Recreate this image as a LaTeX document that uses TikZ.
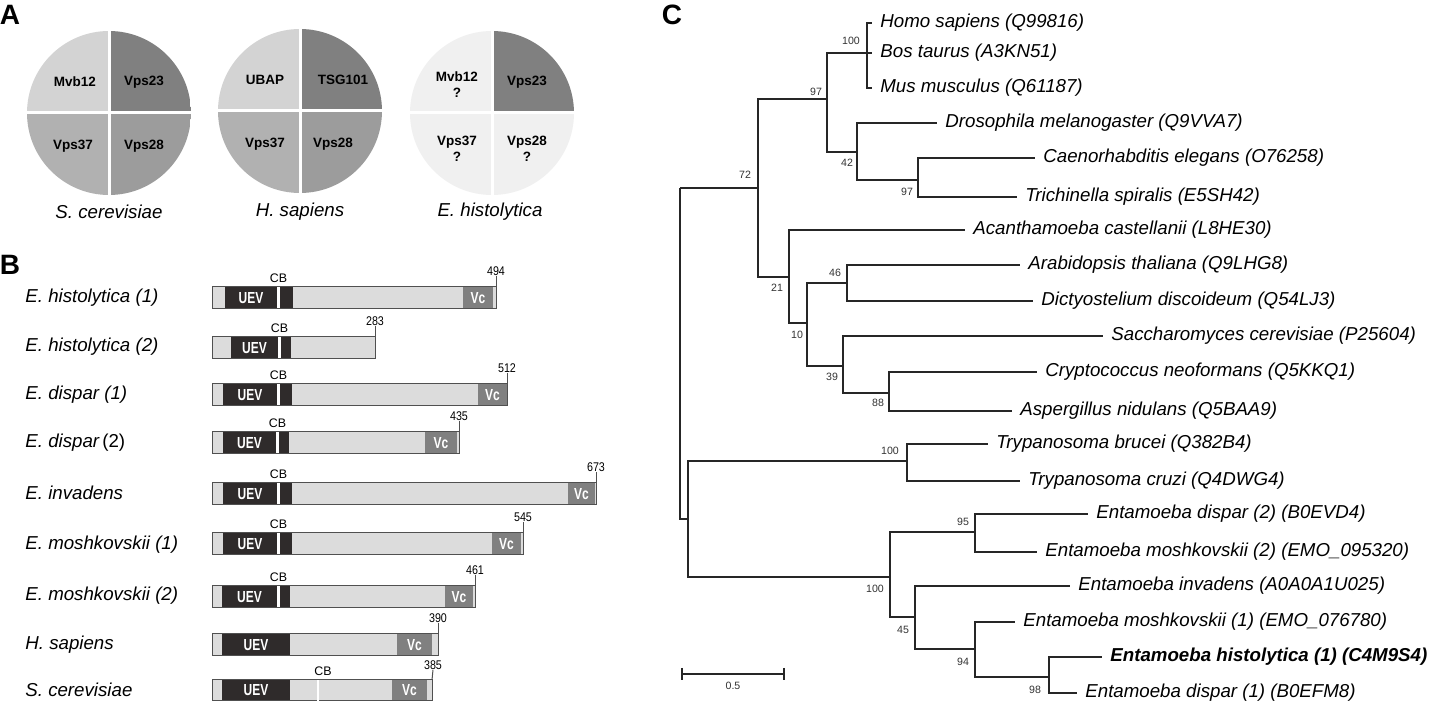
\documentclass[tikz,border=0pt]{standalone}
\usepackage{fontspec}
\setmainfont{Liberation Sans}
\usetikzlibrary{positioning}

\definecolor{qlight}{HTML}{D3D3D3}
\definecolor{qdark}{HTML}{808080}
\definecolor{qmid}{HTML}{B1B1B1}
\definecolor{qmed}{HTML}{9C9C9C}
\definecolor{qpale}{HTML}{F0F0F0}
\definecolor{barlight}{HTML}{DCDCDC}
\definecolor{bardark}{HTML}{2F2B2B}
\definecolor{barvc}{HTML}{808080}
\definecolor{barline}{HTML}{505050}

\tikzset{
  sp/.style={font=\fontsize{9.35}{11}\selectfont\itshape, inner sep=0pt},
  leaf/.style={sp, anchor=west, inner xsep=4pt},
  boot/.style={font=\fontsize{5.3}{6}\selectfont, inner sep=0pt, text=black!80},
  branch/.style={line width=1pt, black!85},
  quad/.style={font=\fontsize{6.75}{8}\selectfont\bfseries, align=center, inner sep=0pt},
  panel/.style={font=\fontsize{14}{16}\selectfont\bfseries, inner sep=0pt},
  dom/.style={font=\fontsize{8}{9}\selectfont\bfseries, text=white, xscale=0.75, inner sep=0pt},
  aa/.style={font=\fontsize{6.3}{7}\selectfont, xscale=0.85, inner sep=0pt},
  cb/.style={font=\fontsize{6.2}{7}\selectfont, inner sep=0pt},
  edge/.style={barline, line width=0.5pt},
}

\begin{document}
\begin{tikzpicture}[x=0.5pt, y=-0.5pt]
  \useasboundingbox[fill=white] (0,0) rectangle (1432,710);

  % ---- A: ESCRT-I subunits
  \node[panel] (labA) at (10,15) {A};
  \foreach \cx/\cy/\qa/\qb/\qc/\qd in {109/113/qlight/qdark/qmid/qmed, 300/111/qlight/qdark/qmid/qmed, 492/113/qpale/qdark/qpale/qpale}{
    \begin{scope}
      \clip (\cx,\cy) circle (82);
      \fill[\qa] (\cx-82,\cy-82) rectangle (\cx,\cy);
      \fill[\qb] (\cx,\cy-82) rectangle (\cx+82,\cy);
      \fill[\qc] (\cx-82,\cy) rectangle (\cx,\cy+82);
      \fill[\qd] (\cx,\cy) rectangle (\cx+82,\cy+82);
    \end{scope}
    \draw[white, line width=1.5pt] (\cx-83,\cy) -- (\cx+83,\cy);
    \draw[white, line width=1.5pt] (\cx,\cy-83) -- (\cx,\cy+83);
  }
  \node[quad] (sc1) at (75,82) {Mvb12};
  \node[quad] (sc2) at (144,82) {Vps23};
  \node[quad] (sc3) at (73,146) {Vps37};
  \node[quad] (sc4) at (144,146) {Vps28};
  \node[quad] (hs1) at (265,80) {UBAP};
  \node[quad] (hs2) at (343,80) {TSG101};
  \node[quad] (hs3) at (265,144) {Vps37};
  \node[quad] (hs4) at (333,144) {Vps28};
  \node[quad] (eh1) at (457,85) {Mvb12\\?};
  \node[quad] (eh2) at (527,82) {Vps23};
  \node[quad] (eh3) at (457,149) {Vps37\\?};
  \node[quad] (eh4) at (527,149) {Vps28\\?};
  \node[sp] (scA) at (109,212) {S. cerevisiae};
  \node[sp] (hsA) at (300,212) {H. sapiens};
  \node[sp] (ehA) at (490,212) {E. histolytica};

  % ---- B: Vps23 domain maps
  \node[panel] (labB) at (10,265) {B};
  \node[sp, anchor=west] (r1) at (25,298) {E. histolytica (1)};
  \node[sp, anchor=west] (r2) at (25,347) {E. histolytica (2)};
  \node[sp, anchor=west] (r3) at (25,395) {E. dispar (1)};
  \node[sp, anchor=west] (r4) at (25,443) {E. dispar\,{\upshape(2)}};
  \node[sp, anchor=west] (r5) at (25,493) {E. invadens};
  \node[sp, anchor=west] (r6) at (25,545) {E. moshkovskii (1)};
  \node[sp, anchor=west] (r7) at (25,596) {E. moshkovskii (2)};
  \node[sp, anchor=west] (r8) at (25,645) {H. sapiens};
  \node[sp, anchor=west] (r9) at (25,690) {S. cerevisiae};

  \foreach \i/\yt/\xe/\ua/\ub/\da/\db/\va/\vb/\len in {
      1/287/496/225/277/280/293/463/493/494,
      2/337/375/231/278/281/291/375/375/283,
      3/384/507/223/277/280/292/478/507/512,
      4/432/459/223/276/279/289/425/457/435,
      5/483/596/223/277/280/292/568/595/673,
      6/533/523/223/277/280/292/492/521/545,
      7/586/475/222/277/280/290/445/473/461}{
    \fill[barlight] (212,\yt) rectangle (\xe,\yt+22);
    \fill[bardark] (\ua,\yt) rectangle (\ub,\yt+22);
    \fill[white] (\ub,\yt) rectangle (\da,\yt+22);
    \fill[bardark] (\da,\yt) rectangle (\db,\yt+22);
    \fill[barvc] (\va,\yt) rectangle (\vb,\yt+22);
    \draw[edge] (212,\yt) rectangle (\xe,\yt+22);
    \node[dom] (uev\i) at ({(\ua+\ub)/2},\yt+11) {UEV};
    \node[cb] (cb\i) at ({(\ub+\da)/2},\yt-9) {CB};
    \node[aa] (len\i) at (\xe,\yt-16) {\len};
    \draw[edge] (len\i.south) -- (\xe,\yt);
  }
  \foreach \i/\yt/\va/\vb in {1/287/463/493, 3/384/478/507, 4/432/425/457, 5/483/568/595, 6/533/492/521, 7/586/445/473}
    \node[dom] (vc\i) at ({(\va+\vb)/2},\yt+11) {Vc};

  % H. sapiens
  \fill[barlight] (212,634) rectangle (438,656);
  \fill[bardark] (222,634) rectangle (290,656);
  \fill[barvc] (397,634) rectangle (432,656);
  \draw[edge] (212,634) rectangle (438,656);
  \node[dom] (uev8) at (256,645) {UEV};
  \node[dom] (vc8) at (414.5,645) {Vc};
  \node[aa] (len8) at (438,618) {390};
  \draw[edge] (len8.south) -- (438,634);
  % S. cerevisiae
  \fill[barlight] (212,680) rectangle (432,701);
  \fill[bardark] (222,680) rectangle (290,701);
  \fill[barvc] (392,680) rectangle (427,701);
  \draw[edge] (212,680) rectangle (432,701);
  \draw[white, line width=1.2pt] (318,680.5) -- (318,705);
  \node[dom] (uev9) at (256,690.5) {UEV};
  \node[dom] (vc9) at (409.5,690.5) {Vc};
  \node[cb] (cb9) at (323,671) {CB};
  \node[aa] (len9) at (433,665) {385};
  \draw[edge] (len9.south) -- (432,680);

  % ---- C: tree
  \node[panel] (labC) at (672,15) {C};
  \coordinate (root) at (680,188);
  \coordinate (n72) at (758,188);
  \coordinate (n97a) at (827,99);
  \coordinate (n100a) at (867,53);
  \coordinate (n42) at (857,152);
  \coordinate (n97b) at (918,180);
  \coordinate (n21) at (789,277);
  \coordinate (n10) at (807,323);
  \coordinate (n46) at (847,283);
  \coordinate (n39) at (843,366);
  \coordinate (n88) at (889,393);
  \coordinate (nX) at (688,519);
  \coordinate (n100b) at (907,461);
  \coordinate (n100c) at (890,577);
  \coordinate (n95) at (975,532);
  \coordinate (n45) at (915,617);
  \coordinate (n94) at (975,649);
  \coordinate (n98) at (1049,677);

  \node[leaf] (homo) at (872,23) {Homo sapiens (Q99816)};
  \node[leaf] (bos) at (872,53) {Bos taurus (A3KN51)};
  \node[leaf] (mus) at (872,88) {Mus musculus (Q61187)};
  \node[leaf] (dros) at (937,123) {Drosophila melanogaster (Q9VVA7)};
  \node[leaf] (caeno) at (1035,158) {Caenorhabditis elegans (O76258)};
  \node[leaf] (trich) at (1017,197) {Trichinella spiralis (E5SH42)};
  \node[leaf] (acanth) at (965,230) {Acanthamoeba castellanii (L8HE30)};
  \node[leaf] (arab) at (1020,265) {Arabidopsis thaliana (Q9LHG8)};
  \node[leaf] (dicty) at (1033,301) {Dictyostelium discoideum (Q54LJ3)};
  \node[leaf] (sacch) at (1103,336) {Saccharomyces cerevisiae (P25604)};
  \node[leaf] (crypto) at (1037,372) {Cryptococcus neoformans (Q5KKQ1)};
  \node[leaf] (asperg) at (1012,411) {Aspergillus nidulans (Q5BAA9)};
  \node[leaf] (trypb) at (988,444) {Trypanosoma brucei (Q382B4)};
  \node[leaf] (trypc) at (1020,481) {Trypanosoma cruzi (Q4DWG4)};
  \node[leaf] (disp2) at (1088,514) {Entamoeba dispar (2) (B0EVD4)};
  \node[leaf] (mosh2) at (1037,552) {Entamoeba moshkovskii (2) (EMO\_095320)};
  \node[leaf] (inv) at (1070,586) {Entamoeba invadens (A0A0A1U025)};
  \node[leaf] (mosh1) at (1015,622) {Entamoeba moshkovskii (1) (EMO\_076780)};
  \node[leaf, font=\fontsize{9.35}{11}\selectfont\bfseries\itshape] (hist) at (1102,657) {Entamoeba histolytica (1) (C4M9S4)};
  \node[leaf] (disp1) at (1077,693) {Entamoeba dispar (1) (B0EFM8)};

  \foreach \p/\c in {root/n72, root/nX, n72/n97a, n72/n21, n97a/n100a, n97a/n42,
      n100a/homo, n100a/bos, n100a/mus, n42/dros, n42/n97b, n97b/caeno, n97b/trich,
      n21/acanth, n21/n10, n10/n46, n10/n39, n46/arab, n46/dicty, n39/sacch, n39/n88,
      n88/crypto, n88/asperg, nX/n100b, nX/n100c, n100b/trypb, n100b/trypc,
      n100c/n95, n100c/n45, n95/disp2, n95/mosh2, n45/inv, n45/n94,
      n94/mosh1, n94/n98, n98/hist, n98/disp1}
    \draw[branch] (\p) |- (\c);

  % bootstrap values
  \node[boot] (b1) at (851,41) {100};
  \node[boot] (b2) at (816,92) {97};
  \node[boot] (b3) at (847,163) {42};
  \node[boot] (b4) at (907,192) {97};
  \node[boot] (b5) at (745,175) {72};
  \node[boot] (b6) at (777,288) {21};
  \node[boot] (b7) at (797,335) {10};
  \node[boot] (b8) at (835,273) {46};
  \node[boot] (b9) at (832,377) {39};
  \node[boot] (b10) at (878,403) {88};
  \node[boot] (b11) at (890,451) {100};
  \node[boot] (b12) at (875,589) {100};
  \node[boot] (b13) at (963,522) {95};
  \node[boot] (b14) at (903,630) {45};
  \node[boot] (b15) at (963,662) {94};
  \node[boot] (b16) at (1035,690) {98};

  % scale bar
  \coordinate (sb1) at (682,674);
  \coordinate (sb2) at (784,674);
  \draw[branch] (sb1) -- (sb2);
  \draw[branch] ([yshift=3pt]sb1) -- ([yshift=-3pt]sb1);
  \draw[branch] ([yshift=3pt]sb2) -- ([yshift=-3pt]sb2);
  \node[boot] (sbl) at (733,686) {0.5};
\end{tikzpicture}
\end{document}
